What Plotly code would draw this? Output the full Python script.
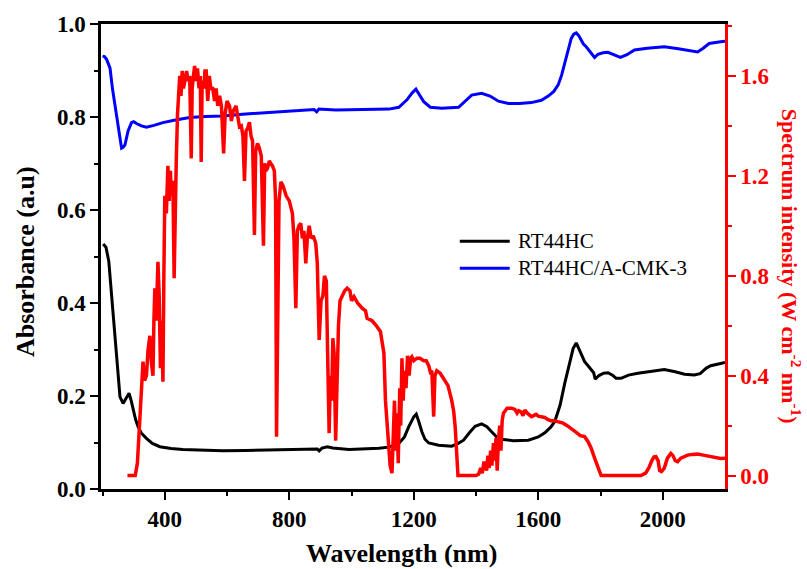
import plotly.graph_objects as go

# ---- RT44HC absorbance ----
wl_rt44hc = [202, 211, 220, 234, 245, 256, 266, 276, 285, 292, 298, 306, 314, 325, 341, 360, 384, 420,
             458, 520, 586, 660, 746, 820, 870, 890, 896, 905, 922, 940, 992, 1040, 1088, 1120, 1152,
             1170, 1184, 1200, 1208, 1216, 1226, 1236, 1248, 1280, 1322, 1340, 1360, 1380, 1397, 1418,
             1435, 1450, 1465, 1482, 1520, 1568, 1600, 1621, 1640, 1653, 1670, 1685, 1700, 1712, 1722,
             1735, 1749, 1760, 1770, 1778, 1783, 1795, 1810, 1824, 1840, 1850, 1866, 1890, 1920, 1960,
             2005, 2040, 2070, 2101, 2120, 2140, 2154, 2186, 2200]
abs_rt44hc = [0.527, 0.52, 0.49, 0.378, 0.28, 0.198, 0.184, 0.195, 0.206, 0.19, 0.17, 0.15, 0.134, 0.12,
              0.109, 0.098, 0.091, 0.087, 0.085, 0.083, 0.082, 0.083, 0.084, 0.084, 0.085, 0.086, 0.082,
              0.088, 0.091, 0.088, 0.085, 0.086, 0.0875, 0.09, 0.098, 0.112, 0.134, 0.155, 0.161, 0.145,
              0.123, 0.107, 0.099, 0.094, 0.092, 0.097, 0.105, 0.122, 0.135, 0.14, 0.134, 0.123, 0.113,
              0.107, 0.104, 0.105, 0.112, 0.121, 0.133, 0.145, 0.18, 0.227, 0.27, 0.302, 0.314, 0.295,
              0.274, 0.265, 0.256, 0.25, 0.236, 0.244, 0.249, 0.25, 0.244, 0.238, 0.238, 0.245, 0.249,
              0.252, 0.257, 0.252, 0.247, 0.245, 0.248, 0.26, 0.265, 0.27, 0.272]

# ---- RT44HC/A-CMK-3 absorbance ----
wl_composite = [200, 206, 213, 220, 224, 232, 240, 250, 261, 266, 272, 282, 293, 300, 309, 325, 341, 365,
                394, 430, 480, 530, 586, 650, 700, 746, 800, 850, 880, 888, 895, 950, 1000, 1060, 1120,
                1152, 1178, 1195, 1207, 1218, 1232, 1253, 1290, 1344, 1365, 1386, 1418, 1445, 1472, 1504,
                1540, 1578, 1610, 1632, 1650, 1664, 1675, 1685, 1695, 1706, 1714, 1722, 1730, 1738, 1745,
                1754, 1768, 1781, 1792, 1808, 1824, 1845, 1864, 1885, 1909, 1950, 2005, 2050, 2090, 2112,
                2130, 2149, 2186, 2200]
abs_composite = [0.931, 0.93, 0.924, 0.912, 0.905, 0.86, 0.822, 0.775, 0.733, 0.735, 0.74, 0.77, 0.788,
                 0.79, 0.786, 0.781, 0.778, 0.782, 0.788, 0.793, 0.799, 0.801, 0.802, 0.806, 0.808, 0.811,
                 0.812, 0.815, 0.816, 0.811, 0.817, 0.815, 0.816, 0.816, 0.817, 0.821, 0.837, 0.852, 0.86,
                 0.848, 0.833, 0.821, 0.819, 0.821, 0.834, 0.847, 0.851, 0.845, 0.834, 0.829, 0.829, 0.831,
                 0.836, 0.845, 0.855, 0.869, 0.89, 0.915, 0.943, 0.969, 0.978, 0.981, 0.975, 0.966, 0.957,
                 0.951, 0.94, 0.928, 0.935, 0.938, 0.939, 0.934, 0.928, 0.934, 0.944, 0.948, 0.951, 0.947,
                 0.942, 0.94, 0.948, 0.958, 0.962, 0.963]

# ---- Solar spectral irradiance ----
wl_solar = [280, 305, 312, 320, 325, 330, 335, 341, 346, 352, 357, 362, 365, 368, 372, 378, 382, 386, 390,
            394, 397, 400, 405, 410, 414, 418, 421, 426, 430, 434, 437, 441, 445, 448, 452, 456, 460, 464,
            470, 475, 480, 485, 488, 492, 496, 500, 505, 510, 514, 517, 520, 525, 529, 533, 538, 543, 548,
            554, 560, 565, 570, 576, 582, 589, 594, 600, 608, 614, 620, 629, 635, 640, 646, 651, 656, 661,
            666, 672, 677, 682, 688, 692, 698, 704, 710, 717, 721, 725, 730, 736, 740, 746, 752, 756, 759,
            763, 767, 773, 780, 790, 800, 810, 815, 821, 826, 831, 837, 842, 847, 853, 858, 864, 870, 877,
            885, 890, 896, 902, 908, 913, 919, 923, 928, 932, 936, 940, 944, 949, 953, 958, 963, 970, 978,
            986, 995, 1000, 1008, 1020, 1034, 1045, 1050, 1066, 1080, 1093, 1100, 1104, 1109, 1114, 1120,
            1124, 1130, 1134, 1138, 1142, 1146, 1150, 1155, 1158, 1162, 1166, 1170, 1175, 1180, 1185, 1190,
            1194, 1200, 1210, 1220, 1232, 1240, 1248, 1253, 1258, 1264, 1268, 1274, 1285, 1301, 1310, 1322,
            1328, 1333, 1338, 1342, 1360, 1380, 1400, 1408, 1415, 1420, 1425, 1429, 1434, 1438, 1442, 1447,
            1451, 1456, 1460, 1464, 1468, 1472, 1476, 1480, 1484, 1488, 1495, 1500, 1507, 1514, 1525, 1532,
            1537, 1545, 1551, 1557, 1565, 1572, 1578, 1585, 1593, 1600, 1610, 1621, 1630, 1640, 1650, 1664,
            1680, 1693, 1706, 1720, 1735, 1749, 1760, 1770, 1781, 1792, 1802, 1850, 1900, 1930, 1945, 1956,
            1965, 1972, 1978, 1985, 1990, 1996, 2005, 2015, 2026, 2033, 2040, 2048, 2058, 2069, 2080, 2095,
            2112, 2130, 2154, 2170, 2186, 2200]
irr_solar = [0.0, 0.0, 0.05, 0.216, 0.33, 0.456, 0.38, 0.40, 0.50, 0.56, 0.45, 0.40, 0.62, 0.75, 0.62,
             0.856, 0.72, 0.43, 0.62, 0.376, 0.80, 1.12, 1.05, 1.24, 1.10, 1.22, 1.12, 1.18, 0.79, 1.20,
             1.27, 1.45, 1.55, 1.60, 1.52, 1.62, 1.55, 1.576, 1.62, 1.58, 1.60, 1.27, 1.55, 1.60, 1.64,
             1.58, 1.63, 1.55, 1.60, 1.256, 1.58, 1.55, 1.62, 1.62, 1.50, 1.60, 1.55, 1.55, 1.50, 1.55,
             1.48, 1.52, 1.48, 1.29, 1.45, 1.50, 1.48, 1.42, 1.46, 1.48, 1.42, 1.396, 1.40, 1.36, 1.18,
             1.38, 1.39, 1.415, 1.36, 1.34, 0.963, 1.30, 1.33, 1.31, 1.28, 0.92, 1.25, 1.22, 1.23, 1.26,
             1.25, 1.24, 1.22, 1.10, 0.156, 0.60, 1.10, 1.176, 1.16, 1.12, 1.10, 1.05, 0.95, 0.67, 0.98,
             1.00, 1.01, 0.95, 0.98, 0.85, 0.95, 1.0, 0.95, 0.96, 0.93, 0.85, 0.543, 0.70, 0.72, 0.80,
             0.78, 0.50, 0.17, 0.40, 0.30, 0.55, 0.49, 0.14, 0.40, 0.60, 0.70, 0.72, 0.74, 0.75, 0.74,
             0.70, 0.716, 0.69, 0.67, 0.66, 0.63, 0.62, 0.60, 0.576, 0.53, 0.49, 0.30, 0.20, 0.09, 0.04,
             0.01, 0.15, 0.30, 0.10, 0.25, 0.05, 0.35, 0.20, 0.47, 0.30, 0.42, 0.35, 0.48, 0.40, 0.47,
             0.476, 0.46, 0.47, 0.47, 0.46, 0.46, 0.44, 0.415, 0.42, 0.236, 0.40, 0.42, 0.41, 0.38, 0.36,
             0.30, 0.26, 0.196, 0.10, 0.0, 0.0, 0.0, 0.0, 0.005, 0.03, 0.01, 0.05, 0.05, 0.02, 0.08, 0.03,
             0.10, 0.04, 0.13, 0.06, 0.15, 0.02, 0.14, 0.20, 0.10, 0.22, 0.25, 0.26, 0.27, 0.27, 0.27,
             0.265, 0.25, 0.26, 0.255, 0.24, 0.262, 0.25, 0.24, 0.236, 0.24, 0.245, 0.238, 0.235, 0.233,
             0.225, 0.22, 0.22, 0.216, 0.21, 0.20, 0.189, 0.175, 0.16, 0.156, 0.136, 0.11, 0.07, 0.03, 0.0,
             0.0, 0.0, 0.0, 0.01, 0.033, 0.06, 0.075, 0.076, 0.06, 0.02, 0.016, 0.03, 0.07, 0.089, 0.08,
             0.06, 0.056, 0.07, 0.078, 0.082, 0.085, 0.086, 0.082, 0.076, 0.073, 0.069, 0.07]

series_names = ["RT44HC", "RT44HC/A-CMK-3"]
x_ticks = [400, 800, 1200, 1600, 2000]

SERIF = "Liberation Serif, Times New Roman, serif"
RED = "#ff0000"

fig = go.Figure()
fig.add_trace(go.Scatter(x=wl_rt44hc, y=abs_rt44hc, mode="lines", name=series_names[0],
                         line=dict(color="black", width=3), showlegend=False))
fig.add_trace(go.Scatter(x=wl_composite, y=abs_composite, mode="lines", name=series_names[1],
                         line=dict(color="#0000ff", width=3), showlegend=False))
fig.add_trace(go.Scatter(x=wl_solar, y=irr_solar, mode="lines", name="AM1.5",
                         line=dict(color=RED, width=3.5), yaxis="y2", showlegend=False))

tick_font = dict(family=SERIF, size=23, color="black", weight="bold")

fig.update_layout(
    width=807, height=569,
    margin=dict(l=101, r=82, t=24, b=80),
    paper_bgcolor="white", plot_bgcolor="white",
    xaxis=dict(range=[195, 2200], tickvals=x_ticks, ticks="outside", ticklen=8, tickwidth=2,
               tickcolor="black", linecolor="black", linewidth=2.5, mirror=True, showgrid=False,
               zeroline=False, tickfont=tick_font,
               minor=dict(tickvals=[200, 600, 1000, 1400, 1800], ticks="outside", ticklen=4,
                          tickwidth=2, tickcolor="black")),
    yaxis=dict(range=[0, 1.0], dtick=0.2, tick0=0, tickformat=".1f", ticks="outside", ticklen=8,
               tickwidth=2, tickcolor="black", linecolor="black", linewidth=2.5, showgrid=False,
               zeroline=False, tickfont=tick_font,
               minor=dict(dtick=0.1, tick0=0, ticks="outside", ticklen=4, tickwidth=2,
                          tickcolor="black")),
    yaxis2=dict(range=[-0.0536, 1.808], dtick=0.4, tick0=0, tickformat=".1f", overlaying="y",
                side="right", ticks="outside", ticklen=8, tickwidth=2, tickcolor=RED,
                linecolor=RED, linewidth=2.5, showgrid=False, zeroline=False,
                tickfont=dict(family=SERIF, size=23, color=RED, weight="bold"),
                minor=dict(dtick=0.2, tick0=0, ticks="outside", ticklen=4, tickwidth=2,
                           tickcolor=RED)),
)

# axis titles
fig.add_annotation(text="Wavelength (nm)", xref="paper", yref="paper", x=0.481, y=-0.138,
                   xanchor="center", yanchor="middle", showarrow=False,
                   font=dict(family=SERIF, size=26, color="black", weight="bold"))
fig.add_annotation(text="Absorbance (a.u)", xref="paper", yref="paper", x=-0.122, y=0.49,
                   xanchor="center", yanchor="middle", textangle=-90, showarrow=False,
                   font=dict(family=SERIF, size=26, color="black", weight="bold"))
fig.add_annotation(text="Spectrum intensity (W cm<sup>-2</sup> nm<sup>-1</sup>)", xref="paper",
                   yref="paper", x=1.106, y=0.48, xanchor="center", yanchor="middle",
                   textangle=90, showarrow=False,
                   font=dict(family=SERIF, size=22, color=RED, weight="bold"))

# legend block
legend_colors = ["black", "#0000ff"]
legend_y = [0.533, 0.475]
for name, col, ly in zip(series_names, legend_colors, legend_y):
    fig.add_shape(type="line", xref="paper", yref="paper", x0=0.575, x1=0.655, y0=ly, y1=ly,
                  line=dict(color=col, width=3))
    fig.add_annotation(text=name, xref="paper", yref="paper", x=0.665, y=ly, xanchor="left",
                       yanchor="middle", showarrow=False,
                       font=dict(family=SERIF, size=21, color="black"))

fig.write_html("out.html")
